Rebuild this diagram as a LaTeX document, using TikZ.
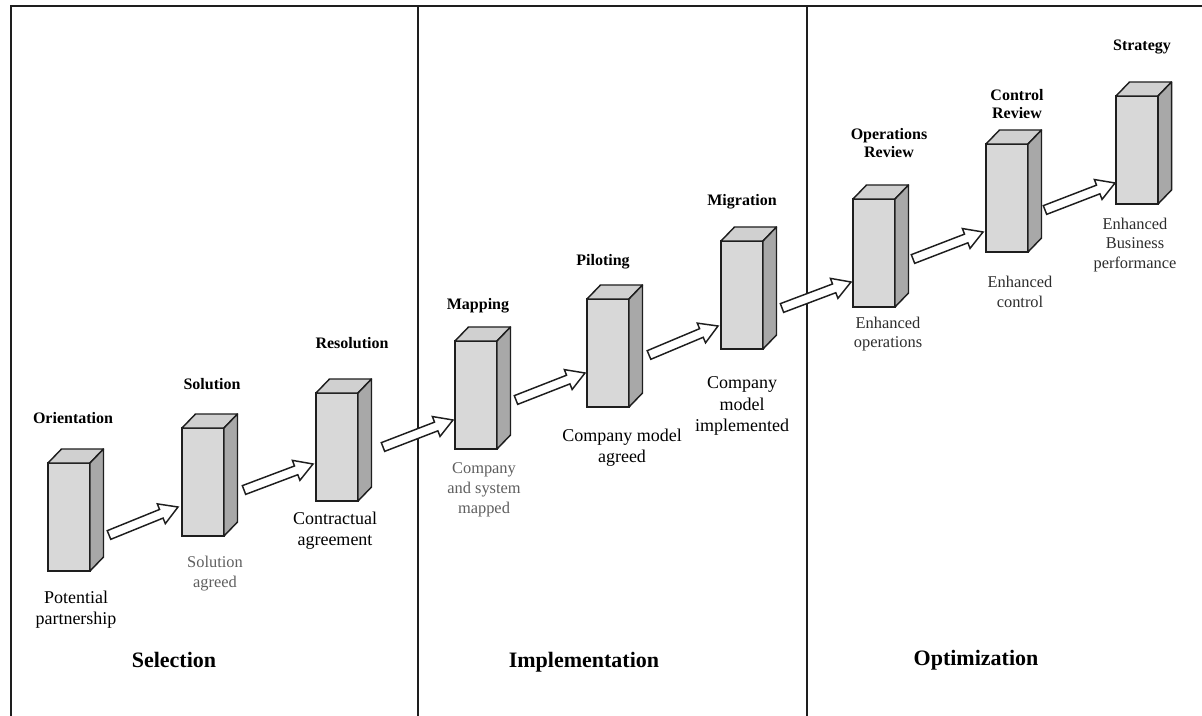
\documentclass[tikz,border=0pt]{standalone}
\usepackage{fontspec}
\setmainfont{Liberation Serif}
\usetikzlibrary{calc}

\definecolor{frontgray}{RGB}{216,216,216}
\definecolor{topgray}{RGB}{208,208,208}
\definecolor{sidegray}{RGB}{168,168,168}
\definecolor{softgray}{RGB}{95,95,95}
\definecolor{darktext}{RGB}{45,45,45}
\definecolor{inkline}{RGB}{30,30,30}

\tikzset{
  pillar/.style={draw=inkline, line width=1.1pt, fill=frontgray,
    minimum width=31.5pt, minimum height=81pt, inner sep=0pt, outer sep=0pt,
    anchor=north west},
  face/.style={draw=inkline, line width=1.1pt, line join=round},
  hollow/.style={draw=inkline, line width=1.1pt, fill=white, line join=miter},
  stage/.style={font=\bfseries\fontsize{12}{14}\selectfont, align=center, inner sep=0pt},
  outcome/.style={font=\fontsize{13.5}{16}\selectfont, align=center, inner sep=0pt},
  minor/.style={font=\fontsize{12.3}{15}\selectfont, align=center, inner sep=0pt, text=softgray},
  result/.style={font=\fontsize{12.3}{14.5}\selectfont, align=center, inner sep=0pt, text=darktext},
  phase/.style={font=\bfseries\fontsize{16.5}{20}\selectfont, inner sep=0pt},
  frame/.style={line width=1.6pt, draw=inkline},
}

% a pillar: front face as a node, then its top and right faces
\newcommand\pillar[3]{%
  \node[pillar] (#1) at (#2,#3) {};
  \draw[face, fill=topgray] (#1.north west) -- ++(13.5,-14)
    -- ($(#1.north east)+(13.5,-14)$) -- (#1.north east) -- cycle;
  \draw[face, fill=sidegray] (#1.north east) -- ++(13.5,-14)
    -- ($(#1.south east)+(13.5,-14)$) -- (#1.south east) -- cycle;
}

% an outlined block arrow from coordinate #1 to coordinate #2
\newcommand\blockarrow[2]{%
  \coordinate (#1#2neck) at ($(#2)!13.5pt!(#1)$);
  \draw[hollow] ($(#1)!3.5pt!90:(#2)$) -- ($(#1#2neck)!3.5pt!90:(#2)$)
    -- ($(#1#2neck)!8pt!90:(#2)$) -- (#2)
    -- ($(#1#2neck)!8pt!-90:(#2)$) -- ($(#1#2neck)!3.5pt!-90:(#2)$)
    -- ($(#1)!3.5pt!-90:(#2)$) -- cycle;
}

\begin{document}
\begin{tikzpicture}[x=0.75pt, y=-0.75pt]
  \useasboundingbox (0,0) rectangle (1202,716);
  \fill[white] (0,0) rectangle (1202,716);

  % phase frame
  \draw[frame] (11,716) -- (11,6) -- (1202,6);
  \draw[frame] (418,6) -- (418,716);
  \draw[frame] (807,6) -- (807,716);

  % pillars
  \pillar{b1}{48}{463}
  \pillar{b2}{182}{428}
  \pillar{b3}{316}{393}
  \pillar{b4}{455}{341}
  \pillar{b5}{587}{299}
  \pillar{b6}{721}{241}
  \pillar{b7}{853}{199}
  \pillar{b8}{986}{144}
  \pillar{b9}{1116}{96}

  % arrow ends
  \coordinate (s1) at ($(b1.north east)+(19,72)$);
  \coordinate (e1) at ($(b2.north west)+(-4,79)$);
  \coordinate (s2) at ($(b2.north east)+(20,62)$);
  \coordinate (e2) at ($(b3.north west)+(-3,71)$);
  \coordinate (s3) at ($(b3.north east)+(25,54)$);
  \coordinate (e3) at ($(b4.north west)+(-2,79)$);
  \coordinate (s4) at ($(b4.north east)+(19,59)$);
  \coordinate (e4) at ($(b5.north west)+(-2,74)$);
  \coordinate (s5) at ($(b5.north east)+(20,56)$);
  \coordinate (e5) at ($(b6.north west)+(-3,85)$);
  \coordinate (s6) at ($(b6.north east)+(19,67)$);
  \coordinate (e6) at ($(b7.north west)+(-2,83)$);
  \coordinate (s7) at ($(b7.north east)+(18,60)$);
  \coordinate (e7) at ($(b8.north west)+(-3,88)$);
  \coordinate (s8) at ($(b8.north east)+(17,66)$);
  \coordinate (e8) at ($(b9.north west)+(-1,87)$);

  \blockarrow{s1}{e1}
  \blockarrow{s2}{e2}
  \blockarrow{s3}{e3}
  \blockarrow{s4}{e4}
  \blockarrow{s5}{e5}
  \blockarrow{s6}{e6}
  \blockarrow{s7}{e7}
  \blockarrow{s8}{e8}

  % stage names
  \node[stage] (n1) at (73,418) {Orientation};
  \node[stage] (n2) at (212,384) {Solution};
  \node[stage] (n3) at (352,343) {Resolution};
  \node[stage] (n4) at (478,306) {Mapping};
  \node[stage] (n5) at (603,262) {Piloting};
  \node[stage] (n6) at (742,202) {Migration};
  \node[stage] (n7) at (889,143) {Operations\\Review};
  \node[stage] (n8) at (1017,104) {Control\\Review};
  \node[stage] (n9) at (1142,47) {Strategy};

  % outcomes
  \node[outcome] (o1) at (76,610) {Potential\\partnership};
  \node[minor]   (o2) at (215,574) {Solution\\agreed};
  \node[outcome] (o3) at (335,531) {Contractual\\agreement};
  \node[minor]   (o4) at (484,490) {Company\\and system\\mapped};
  \node[outcome] (o5) at (622,448) {Company model\\agreed};
  \node[outcome] (o6) at (742,406) {Company\\model\\implemented};
  \node[result]  (o7) at (888,334) {Enhanced\\operations};
  \node[result]  (o8) at (1020,292) {Enhanced\\control};
  \node[result]  (o9) at (1135,245) {Enhanced\\Business\\performance};

  % phases
  \node[phase] (p1) at (174,660) {Selection};
  \node[phase] (p2) at (584,662) {Implementation};
  \node[phase] (p3) at (976,660) {Optimization};
\end{tikzpicture}
\end{document}
